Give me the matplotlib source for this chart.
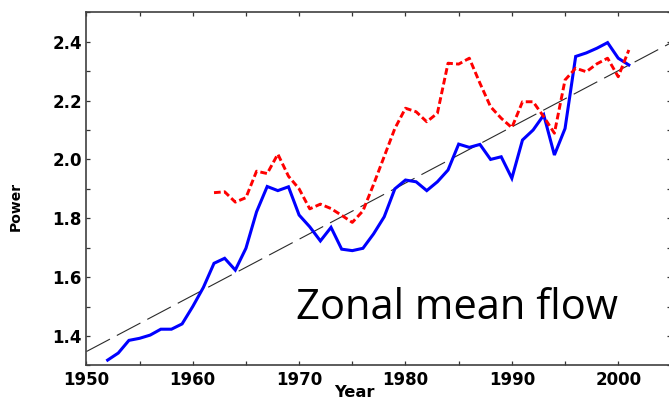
import matplotlib
matplotlib.use("Agg")
import matplotlib.pyplot as plt
from matplotlib.ticker import MultipleLocator, FixedLocator, FormatStrFormatter

# Annual series (blue: full record, red: shorter record)
years_blue = list(range(1952, 2002))
power_blue = [1.318, 1.342, 1.385, 1.392, 1.403, 1.423, 1.423, 1.441, 1.500, 1.565,
              1.647, 1.664, 1.624, 1.698, 1.822, 1.908, 1.894, 1.907, 1.811, 1.771,
              1.723, 1.769, 1.695, 1.690, 1.698, 1.747, 1.805, 1.900, 1.930, 1.924,
              1.894, 1.924, 1.964, 2.052, 2.041, 2.051, 2.000, 2.009, 1.936, 2.066,
              2.100, 2.151, 2.015, 2.105, 2.350, 2.362, 2.378, 2.397, 2.344, 2.321]

years_red = list(range(1962, 2002))
power_red = [1.887, 1.890, 1.855, 1.870, 1.960, 1.952, 2.018, 1.943, 1.900, 1.832,
             1.848, 1.833, 1.810, 1.786, 1.825, 1.915, 2.010, 2.105, 2.174, 2.162,
             2.128, 2.157, 2.327, 2.324, 2.344, 2.259, 2.179, 2.140, 2.108, 2.196,
             2.196, 2.145, 2.089, 2.270, 2.310, 2.298, 2.325, 2.344, 2.281, 2.372]

# Linear trend end points
trend_years = [1950, 2005]
trend_power = [1.347, 2.397]

x_ticks = [1950, 1960, 1970, 1980, 1990, 2000]
y_ticks = [1.4, 1.6, 1.8, 2.0, 2.2, 2.4]

fig = plt.figure(figsize=(6.69, 4.01), dpi=100)
ax = fig.add_axes([0.1291, 0.0888, 0.8745, 0.8805])

ax.plot(trend_years, trend_power, color='#2a2a2a', lw=0.8, dashes=(24, 7))
ax.plot(years_blue, power_blue, color='#0000ff', lw=2.2, solid_joinstyle='miter')
ax.plot(years_red, power_red, color='#ff0000', lw=2.1, dashes=(2.3, 1.1))

ax.set_xlim(1950, 2005)
ax.set_ylim(1.3, 2.5)

ax.xaxis.set_major_locator(FixedLocator(x_ticks))
ax.xaxis.set_minor_locator(MultipleLocator(5))
ax.yaxis.set_major_locator(FixedLocator(y_ticks))
ax.yaxis.set_minor_locator(MultipleLocator(0.1))
ax.yaxis.set_major_formatter(FormatStrFormatter('%.1f'))

tick_font = dict(family='DejaVu Sans', weight='bold', size=12)
for lab in ax.get_xticklabels() + ax.get_yticklabels():
    lab.set_fontproperties(matplotlib.font_manager.FontProperties(**tick_font))

ax.tick_params(which='both', direction='in', top=True, right=True,
               length=3.2, width=0.9, color='#333333')
ax.tick_params(axis='x', pad=4.3)
ax.tick_params(axis='y', pad=3.2)

for sp in ax.spines.values():
    sp.set_color('#404040')
    sp.set_linewidth(1.2)

ax.set_xlabel('Year', family='DejaVu Sans', weight='bold', size=11.7)
ax.xaxis.set_label_coords(0.458, -0.077)
ax.xaxis.label.set_va('center')
ax.set_ylabel('Power', family='DejaVu Sans', weight='bold', size=10)
ax.yaxis.set_label_coords(-0.12, 0.45)
ax.yaxis.label.set_va('center')

ax.text(1969.7, 1.457, 'Zonal mean flow', family='Open Sans', size=30,
        color='black', ha='left', va='baseline')

fig.savefig('out.png', dpi=100)
